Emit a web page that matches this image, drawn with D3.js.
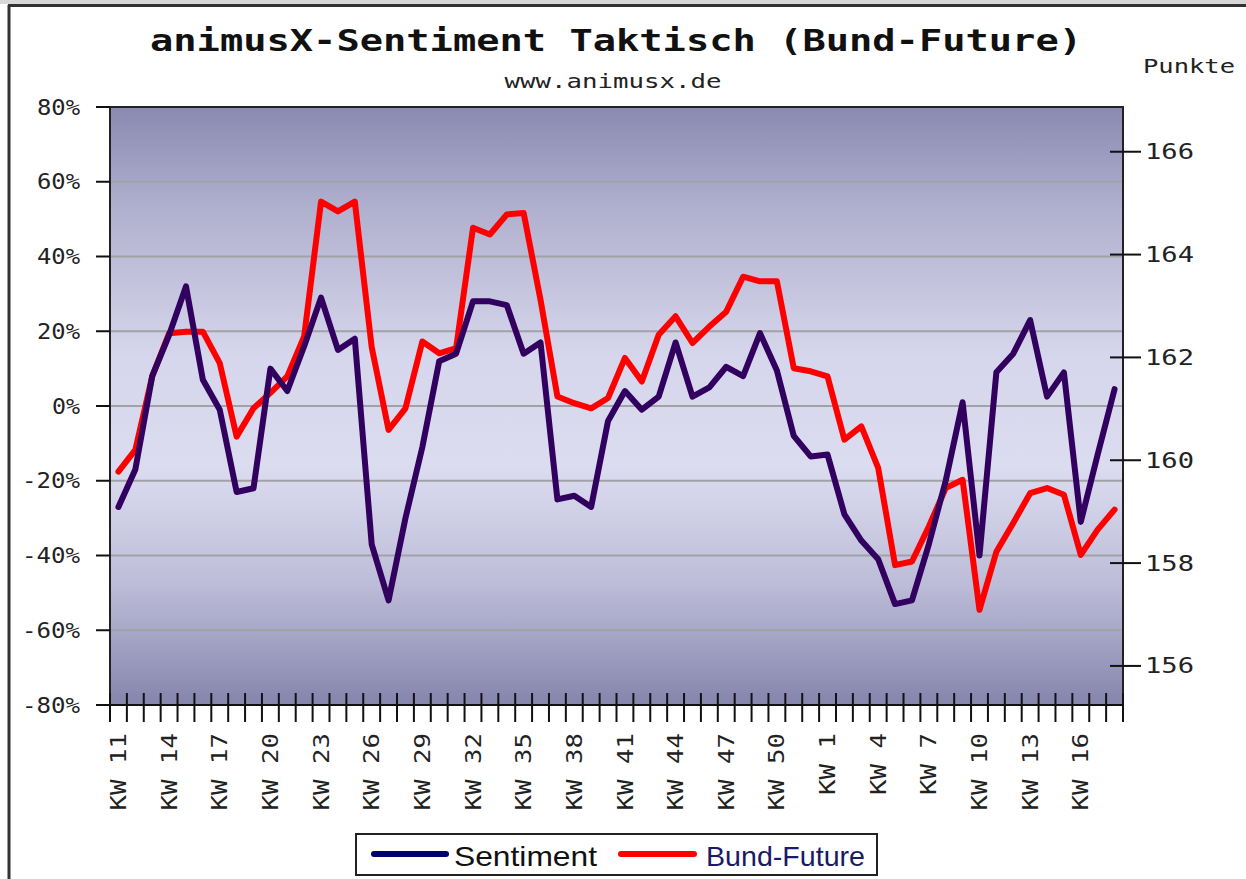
<!DOCTYPE html>
<html>
<head>
<meta charset="utf-8">
<script src="https://cdn.jsdelivr.net/npm/d3@7"></script>
<style>
  body { margin: 0; background: #fff; }
  svg { display: block; }
</style>
</head>
<body>
<div id="chart"></div>
<script>
// Kalenderwochen: KW 11 bis KW 52, dann KW 1 bis KW 18 (Folgejahr)
const weeks = d3.range(11, 53).map(w => "KW " + w).concat(d3.range(1, 19).map(w => "KW " + w));

// animusX-Sentiment in %
const sentiment = [
  -27, -17, 8, 19, 32, 7, -1, -23, -22, 10,
  4, 16, 29, 15, 18, -37, -52, -30, -11, 12,
  14, 28, 28, 27, 14, 17, -25, -24, -27, -4,
  4, -1, 2.5, 17, 2.5, 5, 10.5, 8, 19.5, 9.5,
  -8, -13.5, -13, -29, -36, -41, -53, -52, -37, -20,
  1, -40, 9, 14, 23, 2.5, 9, -31, -13, 4.5
];

// Bund-Future in Punkten
const bund = [
  159.78, 160.2, 161.63, 162.47, 162.5, 162.5, 161.89, 160.46, 161.01, 161.31,
  161.63, 162.41, 165.03, 164.84, 165.03, 162.2, 160.59, 161.01, 162.31, 162.08,
  162.18, 164.52, 164.39, 164.78, 164.81, 163.12, 161.24, 161.11, 161.01, 161.21,
  161.99, 161.53, 162.44, 162.8, 162.28, 162.6, 162.89, 163.57, 163.48, 163.48,
  161.79, 161.73, 161.63, 160.4, 160.66, 159.85, 157.96, 158.03, 158.71, 159.46,
  159.62, 157.09, 158.22, 158.78, 159.36, 159.46, 159.33, 158.16, 158.65, 159.04
];

const leftTicks = [80, 60, 40, 20, 0, -20, -40, -60, -80];
const gridTicks = [60, 40, 20, 0, -20, -40, -60];
const rightTicks = [156, 158, 160, 162, 164, 166];

const W = 1246, H = 879;
const plot = { left: 110, right: 1123, top: 107, bottom: 705 };
const mono = "'DejaVu Sans Mono', monospace";

const svg = d3.select("#chart").append("svg")
  .attr("width", W)
  .attr("height", H);

// Rahmen
svg.append("rect").attr("x", 0).attr("y", 0).attr("width", W).attr("height", 4).attr("fill", "#d8d8d8");
svg.append("line").attr("x1", 8).attr("x2", W).attr("y1", 5.5).attr("y2", 5.5)
  .attr("stroke", "#333").attr("stroke-width", 3);
svg.append("line").attr("x1", 9).attr("x2", 9).attr("y1", 5).attr("y2", H)
  .attr("stroke", "#333").attr("stroke-width", 3);

// Scales (Index als Domain, da KW 11..18 zweimal vorkommen)
const idx = d3.range(weeks.length);
const x = d3.scaleBand().domain(idx).range([plot.left, plot.right]);
const yL = d3.scaleLinear().domain([-80, 80]).range([plot.bottom, plot.top]);
const yR = d3.scaleLinear().domain([155.24, 166.87]).range([plot.bottom, plot.top]);
const cx = i => x(i) + x.bandwidth() / 2;

// Hintergrund-Verlauf
const grad = svg.append("defs").append("linearGradient")
  .attr("id", "bg").attr("x1", 0).attr("x2", 0).attr("y1", 0).attr("y2", 1);
[[0, "#8a8ab2"], [0.18, "#b2b2d0"], [0.42, "#d6d6ec"], [0.6, "#dcdcf0"],
 [0.8, "#bcbcd8"], [1, "#8585ad"]].forEach(s => {
  grad.append("stop").attr("offset", s[0]).attr("stop-color", s[1]);
});

svg.append("rect")
  .attr("x", plot.left).attr("y", plot.top)
  .attr("width", plot.right - plot.left).attr("height", plot.bottom - plot.top)
  .attr("fill", "url(#bg)");

// Gitterlinien
svg.selectAll(".grid").data(gridTicks).enter().append("line")
  .attr("x1", plot.left).attr("x2", plot.right)
  .attr("y1", d => yL(d)).attr("y2", d => yL(d))
  .attr("stroke", "#a2a2a6").attr("stroke-width", 2);

// Rahmen des Plotbereichs
svg.append("rect")
  .attr("x", plot.left).attr("y", plot.top)
  .attr("width", plot.right - plot.left).attr("height", plot.bottom - plot.top)
  .attr("fill", "none").attr("stroke", "#222").attr("stroke-width", 2);

// linke Achse
svg.selectAll(".ltick").data(leftTicks).enter().append("line")
  .attr("x1", 96).attr("x2", plot.left)
  .attr("y1", d => yL(d)).attr("y2", d => yL(d))
  .attr("stroke", "#111").attr("stroke-width", 2);

svg.selectAll(".llabel").data(leftTicks).enter().append("text")
  .attr("x", 80).attr("y", d => yL(d))
  .attr("dy", "0.36em")
  .attr("text-anchor", "end")
  .attr("font-family", mono).attr("font-size", 21).attr("fill", "#222")
  .attr("textLength", d => (d + "%").length * 15 - 2)
  .attr("lengthAdjust", "spacingAndGlyphs")
  .text(d => d + "%");

// rechte Achse
svg.selectAll(".rtick").data(rightTicks).enter().append("line")
  .attr("x1", 1110).attr("x2", 1141)
  .attr("y1", d => yR(d)).attr("y2", d => yR(d))
  .attr("stroke", "#111").attr("stroke-width", 2);

svg.selectAll(".rlabel").data(rightTicks).enter().append("text")
  .attr("x", 1145).attr("y", d => yR(d))
  .attr("dy", "0.36em")
  .attr("font-family", mono).attr("font-size", 21).attr("fill", "#222")
  .attr("textLength", 49)
  .attr("lengthAdjust", "spacingAndGlyphs")
  .text(d => d);

// x-Achse
svg.append("line")
  .attr("x1", 96).attr("x2", plot.right)
  .attr("y1", plot.bottom).attr("y2", plot.bottom)
  .attr("stroke", "#111").attr("stroke-width", 2);

const bounds = idx.map(i => x(i)).concat([plot.right]);
svg.selectAll(".xtick").data(bounds).enter().append("line")
  .attr("x1", d => d).attr("x2", d => d)
  .attr("y1", 693).attr("y2", 722)
  .attr("stroke", "#111").attr("stroke-width", 2);

svg.selectAll(".xlabel").data(idx.filter(i => i % 3 === 0)).enter().append("text")
  .attr("transform", i => `translate(${cx(i)},733) rotate(-90)`)
  .attr("dy", "0.36em")
  .attr("text-anchor", "end")
  .attr("font-family", mono).attr("font-size", 21).attr("fill", "#222")
  .attr("textLength", i => weeks[i].length * 15.5)
  .attr("lengthAdjust", "spacingAndGlyphs")
  .text(i => weeks[i]);

// Linien
const lineL = d3.line().x((d, i) => cx(i)).y(d => yL(d));
const lineR = d3.line().x((d, i) => cx(i)).y(d => yR(d));

svg.append("path").datum(bund)
  .attr("d", lineR)
  .attr("fill", "none").attr("stroke", "#ff0000")
  .attr("stroke-width", 6).attr("stroke-linejoin", "round").attr("stroke-linecap", "round");

svg.append("path").datum(sentiment)
  .attr("d", lineL)
  .attr("fill", "none").attr("stroke", "#32005f")
  .attr("stroke-width", 6).attr("stroke-linejoin", "round").attr("stroke-linecap", "round");

// Titel
svg.append("text")
  .attr("x", 616).attr("y", 51)
  .attr("text-anchor", "middle")
  .attr("font-family", mono).attr("font-size", 30).attr("font-weight", "bold").attr("fill", "#111")
  .attr("textLength", 932).attr("lengthAdjust", "spacingAndGlyphs")
  .text("animusX-Sentiment Taktisch (Bund-Future)");

svg.append("text")
  .attr("x", 613).attr("y", 88)
  .attr("text-anchor", "middle")
  .attr("font-family", mono).attr("font-size", 20).attr("fill", "#222")
  .attr("textLength", 217).attr("lengthAdjust", "spacingAndGlyphs")
  .text("www.animusx.de");

svg.append("text")
  .attr("x", 1143).attr("y", 73)
  .attr("font-family", mono).attr("font-size", 20).attr("fill", "#222")
  .attr("textLength", 92).attr("lengthAdjust", "spacingAndGlyphs")
  .text("Punkte");

// Legende
const legend = svg.append("g");
legend.append("rect")
  .attr("x", 356).attr("y", 834).attr("width", 521).attr("height", 41)
  .attr("fill", "#fff").attr("stroke", "#222").attr("stroke-width", 2);

const items = [
  { name: "Sentiment", color: "#000070", text: "#111", x1: 374, x2: 446, tx: 454, tl: 143 },
  { name: "Bund-Future", color: "#ff0000", text: "#1a1a66", x1: 621, x2: 694, tx: 706, tl: 159 }
];

items.forEach(it => {
  legend.append("line")
    .attr("x1", it.x1).attr("x2", it.x2).attr("y1", 854).attr("y2", 854)
    .attr("stroke", it.color).attr("stroke-width", 6).attr("stroke-linecap", "round");
  legend.append("text")
    .attr("x", it.tx).attr("y", 866)
    .attr("font-family", "'Liberation Sans', Arial, sans-serif").attr("font-size", 28)
    .attr("fill", it.text)
    .attr("textLength", it.tl).attr("lengthAdjust", "spacingAndGlyphs")
    .text(it.name);
});
</script>
</body>
</html>
